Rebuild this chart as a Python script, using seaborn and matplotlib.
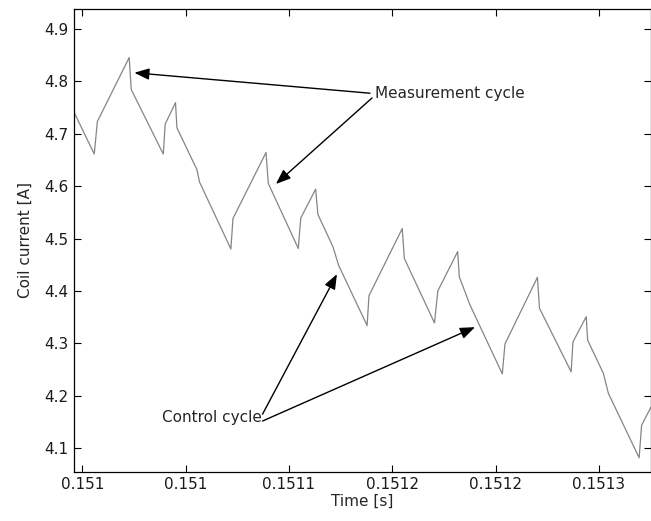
import matplotlib
matplotlib.use("Agg")
import matplotlib.pyplot as plt
import seaborn as sns
import pandas as pd

# Coil current trace: vertices of the piecewise-linear waveform
time_s = [
    0.1509960, 0.1510058, 0.1510073, 0.1510227, 0.1510237, 0.1510392,
    0.1510401, 0.1510451, 0.1510458, 0.1510555, 0.1510567, 0.1510719,
    0.1510729, 0.1510889, 0.1510900, 0.1511045, 0.1511057, 0.1511129,
    0.1511140, 0.1511213, 0.1511240, 0.1511378, 0.1511387, 0.1511548,
    0.1511558, 0.1511704, 0.1511720, 0.1511816, 0.1511824, 0.1511876,
    0.1512032, 0.1512045, 0.1512202, 0.1512212, 0.1512365, 0.1512374,
    0.1512438, 0.1512445, 0.1512521, 0.1512545, 0.1512694, 0.1512706,
    0.1512752,
]
current_a = [
    4.741, 4.661, 4.723, 4.845, 4.784, 4.661,
    4.718, 4.759, 4.711, 4.631, 4.608, 4.480,
    4.538, 4.664, 4.605, 4.481, 4.539, 4.594,
    4.546, 4.484, 4.449, 4.334, 4.391, 4.519,
    4.462, 4.339, 4.400, 4.475, 4.427, 4.373,
    4.242, 4.299, 4.426, 4.367, 4.246, 4.303,
    4.351, 4.306, 4.243, 4.205, 4.082, 4.144,
    4.179,
]

x_ticks = [0.15100, 0.15105, 0.15110, 0.15115, 0.15120, 0.15125]
x_tick_labels = ["0.151", "0.151", "0.1511", "0.1512", "0.1512", "0.1513"]
y_ticks = [4.1, 4.2, 4.3, 4.4, 4.5, 4.6, 4.7, 4.8, 4.9]
y_tick_labels = ["4.1", "4.2", "4.3", "4.4", "4.5", "4.6", "4.7", "4.8", "4.9"]

sns.set_style("ticks")
plt.rcParams["font.family"] = ["DejaVu Sans"]
plt.rcParams["font.size"] = 11

df = pd.DataFrame({"Time [s]": time_s, "Coil current [A]": current_a})

fig = plt.figure(figsize=(6.51, 5.21), dpi=100)
ax = fig.add_axes([74 / 651, 1 - 471.7 / 521, 576.5 / 651, (471.7 - 9.3) / 521])

sns.lineplot(data=df, x="Time [s]", y="Coil current [A]", ax=ax,
             color="#858585", linewidth=0.9, estimator=None, sort=False)

ax.set_xlim(0.150996, 0.1512749)
ax.set_ylim(4.0554, 4.937)
ax.set_xticks(x_ticks)
ax.set_xticklabels(x_tick_labels)
ax.set_yticks(y_ticks)
ax.set_yticklabels(y_tick_labels)
ax.tick_params(direction="in", length=5, width=0.8, color="black",
               top=True, right=True, labelsize=11, labelcolor="#1a1a1a", pad=4)
for side in ["top", "bottom", "left", "right"]:
    ax.spines[side].set_visible(True)
    ax.spines[side].set_color("black")
    ax.spines[side].set_linewidth(0.9)
ax.set_xlabel("Time [s]", fontsize=11, labelpad=1)
ax.set_ylabel("Coil current [A]", fontsize=11, labelpad=8)

arrow_kw = dict(arrowstyle="-|>,head_length=0.9,head_width=0.35",
                color="black", lw=1.0, shrinkA=0, shrinkB=0, mutation_scale=10)

# Measurement cycle labels and arrows
ax.text(0.1511416, 4.7774, "Measurement cycle", ha="left", va="center", fontsize=11)
ax.annotate("", xy=(0.1510252, 4.816), xytext=(0.1511392, 4.777),
            arrowprops=arrow_kw)
ax.annotate("", xy=(0.1510937, 4.604), xytext=(0.1511402, 4.768),
            arrowprops=arrow_kw)

# Control cycle labels and arrows
ax.text(0.1510867, 4.158, "Control cycle", ha="right", va="center", fontsize=11)
ax.annotate("", xy=(0.1511232, 4.432), xytext=(0.1510872, 4.165),
            arrowprops=arrow_kw)
ax.annotate("", xy=(0.1511900, 4.331), xytext=(0.1510872, 4.152),
            arrowprops=arrow_kw)

fig.savefig("out.png", dpi=100)
